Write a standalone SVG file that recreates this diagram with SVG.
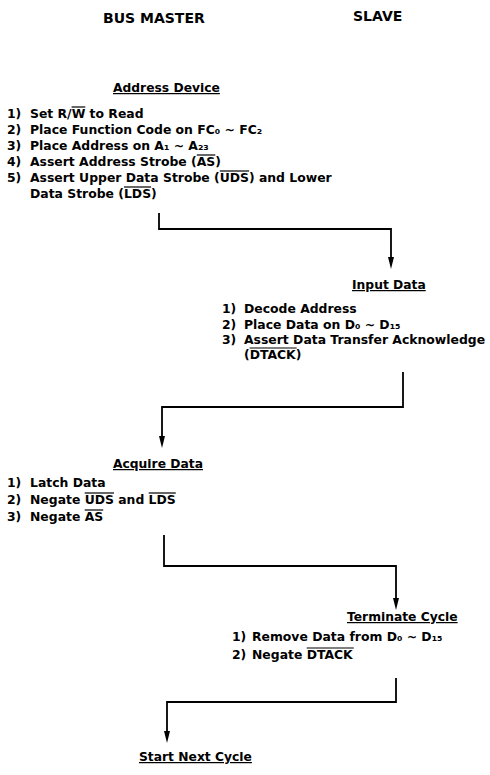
<svg xmlns="http://www.w3.org/2000/svg" width="490" height="775" viewBox="0 0 490 775">
<style>
text{font-family:"DejaVu Sans","Liberation Sans",sans-serif;font-weight:bold;fill:#000;font-size:12.4px}
.hdr{font-size:14px}
.ttl{text-decoration:underline;font-size:12.3px}
.ovl{stroke:#000;stroke-width:1.2}
.conn{fill:none;stroke:#000;stroke-width:1.8}
</style>
<defs>
<marker id="ah" viewBox="0 0 12 6" refX="6" refY="3" markerWidth="12" markerHeight="6" markerUnits="userSpaceOnUse" orient="auto">
<path d="M0,0 L12,3 L0,6 Z" fill="#000"/>
</marker>
</defs>
<g id="headers">
<text class="hdr" x="103" y="23">BUS MASTER</text>
<text class="hdr" x="353" y="21">SLAVE</text>
</g>
<g id="address-device">
<text class="ttl" x="113" y="92">Address Device</text>
<text x="7" y="118">1)</text><text x="30" y="118">Set R/W to Read</text>
<text x="7" y="134">2)</text><text x="30" y="134">Place Function Code on FC₀ ~ FC₂</text>
<text x="7" y="150">3)</text><text x="30" y="150">Place Address on A₁ ~ A₂₃</text>
<text x="7" y="166">4)</text><text x="30" y="166">Assert Address Strobe (AS)</text>
<text x="7" y="182">5)</text><text x="30" y="182">Assert Upper Data Strobe (UDS) and Lower</text>
<text x="30" y="198">Data Strobe (LDS)</text>
<line class="ovl" x1="71.6" y1="107" x2="85.3" y2="107"/>
<line class="ovl" x1="196.8" y1="155" x2="215.3" y2="155"/>
<line class="ovl" x1="219.8" y1="171" x2="249.1" y2="171"/>
<line class="ovl" x1="124" y1="187" x2="151.1" y2="187"/>
</g>
<g id="input-data">
<text class="ttl" x="352" y="289">Input Data</text>
<text x="222" y="313">1)</text><text x="244" y="313">Decode Address</text>
<text x="222" y="329">2)</text><text x="244" y="329">Place Data on D₀ ~ D₁₅</text>
<text x="222" y="344">3)</text><text x="244" y="344">Assert Data Transfer Acknowledge</text>
<text x="244" y="359">(DTACK)</text>
<line class="ovl" x1="249.6" y1="348" x2="296.7" y2="348"/>
</g>
<g id="acquire-data">
<text class="ttl" x="113" y="468">Acquire Data</text>
<text x="7" y="487">1)</text><text x="30" y="487">Latch Data</text>
<text x="7" y="504">2)</text><text x="30" y="504">Negate UDS and LDS</text>
<text x="7" y="521">3)</text><text x="30" y="521">Negate AS</text>
<line class="ovl" x1="84.7" y1="493" x2="114" y2="493"/>
<line class="ovl" x1="148.7" y1="493" x2="175.8" y2="493"/>
<line class="ovl" x1="84.7" y1="510" x2="103.2" y2="510"/>
</g>
<g id="terminate-cycle">
<text class="ttl" x="347" y="621">Terminate Cycle</text>
<text x="232" y="641">1)</text><text x="252" y="641">Remove Data from D₀ ~ D₁₅</text>
<text x="232" y="659">2)</text><text x="252" y="659">Negate DTACK</text>
<line class="ovl" x1="306.7" y1="648" x2="353.8" y2="648"/>
</g>
<g id="start-next-cycle">
<text class="ttl" x="139" y="761">Start Next Cycle</text>
</g>
<g id="connectors">
<polyline class="conn" points="159,213 159,229 391,229 391,263" marker-end="url(#ah)"/>
<polyline class="conn" points="403,372 403,407 162,407 162,442" marker-end="url(#ah)"/>
<polyline class="conn" points="164,535 164,566 396,566 396,604" marker-end="url(#ah)"/>
<polyline class="conn" points="396,678 396,702 167,702 167,737" marker-end="url(#ah)"/>
</g>
</svg>
